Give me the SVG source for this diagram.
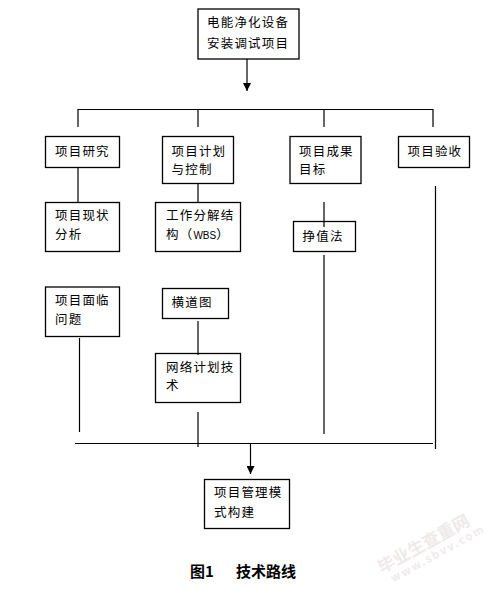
<svg xmlns="http://www.w3.org/2000/svg" width="499" height="592" viewBox="0 0 499 592">
<style>
.box{fill:none;stroke:#000;stroke-width:1.3}
.ln{stroke:#000;stroke-width:1.2;fill:none}
.t{font-family:"Noto Sans CJK SC","Noto Sans",sans-serif;font-size:12.5px;letter-spacing:1.2px;fill:#000}
.cap{font-family:"Noto Sans CJK SC",sans-serif;font-size:15px;font-weight:bold;fill:#000}
.wm{font-family:"Noto Sans CJK SC",serif;fill:#efeaea;font-weight:bold}
</style>
<defs>
<marker id="ah" markerWidth="8" markerHeight="8" refX="8" refY="4" orient="auto" markerUnits="userSpaceOnUse" viewBox="0 0 8 8">
<path d="M0,0 L8,4 L0,8 Z" fill="#000"/>
</marker>
</defs>
<rect width="499" height="592" fill="#fff"/>
<g id="connectors">
<line class="ln" x1="247" y1="59" x2="247" y2="91" stroke="#555" marker-end="url(#ah)"/>
<polyline class="ln" points="78,127 78,109.5 433,109.5 433,127"/>
<line class="ln" x1="198" y1="109.5" x2="198" y2="127"/>
<line class="ln" x1="324" y1="109.5" x2="324" y2="127"/>
<line class="ln" x1="78" y1="167" x2="78" y2="202"/>
<line class="ln" x1="198" y1="183" x2="198" y2="202"/>
<line class="ln" x1="435.5" y1="186" x2="435.5" y2="449"/>
<line class="ln" x1="324" y1="202" x2="324" y2="227"/>
<line class="ln" x1="324" y1="255" x2="324" y2="434"/>
<line class="ln" x1="198" y1="321" x2="198" y2="355"/>
<line class="ln" x1="198" y1="412" x2="198" y2="447"/>
<line class="ln" x1="79.5" y1="338" x2="79.5" y2="432"/>
<line class="ln" x1="75" y1="443.5" x2="433" y2="443.5"/>
<line class="ln" x1="250.5" y1="444" x2="250.5" y2="474" stroke="#666" stroke-width="1.5" marker-end="url(#ah)"/>
</g>
<g id="n_top"><rect class="box" x="198" y="9" width="101" height="50"/><text class="t" x="207" y="27">电能净化设备</text><text class="t" x="207" y="48">安装调试项目</text></g>
<g id="n_research"><rect class="box" x="45.5" y="136.5" width="74" height="31"/><text class="t" x="55" y="156">项目研究</text></g>
<g id="n_plan"><rect class="box" x="162.5" y="136.5" width="71" height="47"/><text class="t" x="171.5" y="156">项目计划</text><text class="t" x="171.5" y="174">与控制</text></g>
<g id="n_result"><rect class="box" x="290" y="136.5" width="71" height="47"/><text class="t" x="299" y="156">项目成果</text><text class="t" x="299" y="174">目标</text></g>
<g id="n_accept"><rect class="box" x="398.5" y="136.5" width="71" height="31"/><text class="t" x="407.5" y="156">项目验收</text></g>
<g id="n_status"><rect class="box" x="45.5" y="202.5" width="74" height="49"/><text class="t" x="55" y="220">项目现状</text><text class="t" x="55" y="238.5">分析</text></g>
<g id="n_wbs"><rect class="box" x="155.5" y="202.5" width="85" height="49"/><text class="t" x="166" y="220">工作分解结</text><text class="t" x="166" y="238.5">构（<tspan font-family="'Liberation Sans',sans-serif" font-size="10" letter-spacing="0">WBS</tspan>）</text></g>
<g id="n_ev"><rect class="box" x="293.5" y="221.5" width="62" height="30"/><text class="t" x="302.5" y="240.5">挣值法</text></g>
<g id="n_issue"><rect class="box" x="45.5" y="287" width="74" height="49.5"/><text class="t" x="55" y="305">项目面临</text><text class="t" x="55" y="324">问题</text></g>
<g id="n_gantt"><rect class="box" x="162.5" y="288.5" width="66" height="30"/><text class="t" x="171.5" y="307">横道图</text></g>
<g id="n_network"><rect class="box" x="155.5" y="353.5" width="85" height="49"/><text class="t" x="166" y="371.5">网络计划技</text><text class="t" x="166" y="390">术</text></g>
<g id="n_model"><rect class="box" x="204.5" y="479.5" width="85" height="49"/><text class="t" x="214" y="497">项目管理模</text><text class="t" x="214" y="517">式构建</text></g>
<text class="cap" x="190" y="577">图1<tspan x="236">技术路线</tspan></text>
<g transform="translate(382,574) rotate(-29)"><text class="wm" x="0" y="0" font-size="17">毕业生查重网</text><text class="wm" x="6" y="13" font-size="11" letter-spacing="2">www.sbvv.com</text></g>
</svg>
